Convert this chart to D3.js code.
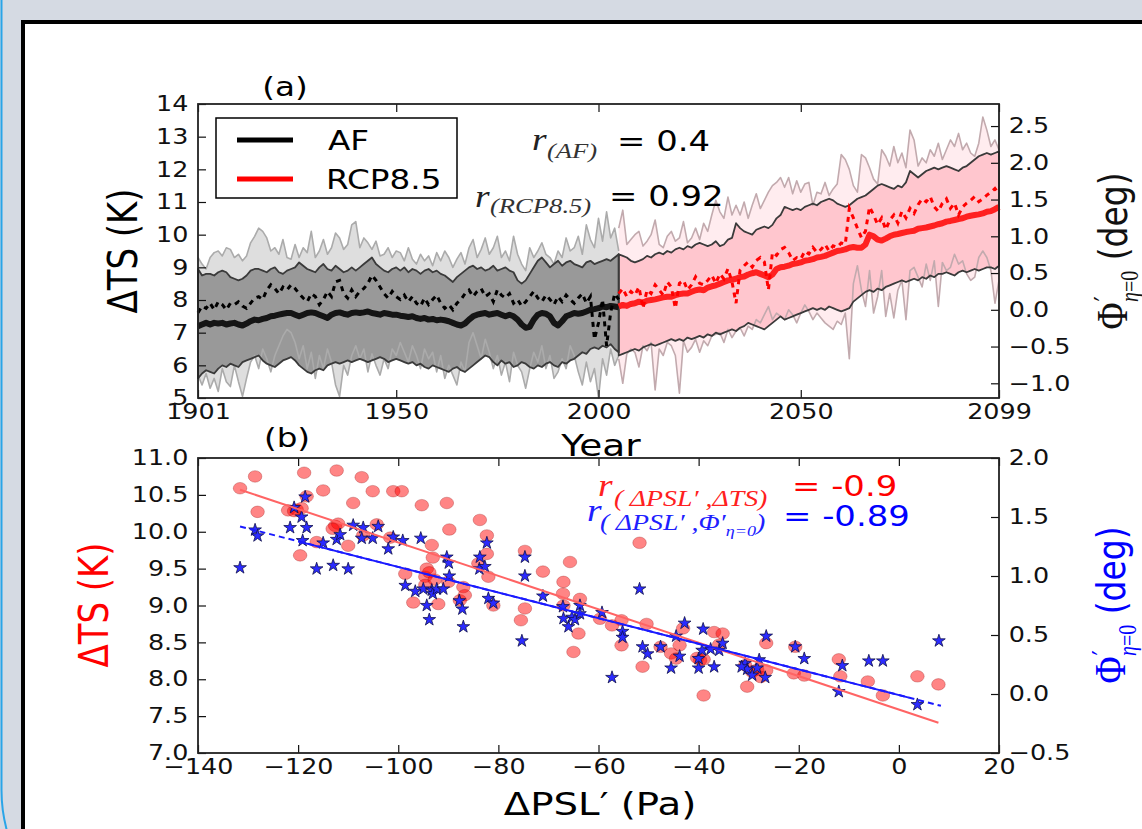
<!DOCTYPE html>
<html>
<head>
<meta charset="utf-8">
<script src="https://cdn.jsdelivr.net/npm/d3@7"></script>
<style>
  body { margin: 0; background: #d5dae3; }
  svg { display: block; }
</style>
</head>
<body>
<div id="chart"></div>
<script>
// ---------- panel (a): yearly series ----------
const histStart = 1901;   // AF run 1901-2005
const rcpStart = 2005;    // RCP8.5 run 2005-2099

// light band (ensemble range), AF
const histOuterHi = [
  9.3, 9.1, 8.95, 9.3, 9.45, 9.5, 9.35, 9.6, 9.55, 9.3,
  9.4, 9.2, 9.35, 9.75, 9.95, 10.2, 10.1, 9.9, 9.5, 9.6,
  9.4, 9.85, 9.3, 9.25, 9.7, 9.3, 9.6, 9.45, 10.1, 9.3,
  9.5, 9.85, 9.4, 9.6, 10.05, 9.9, 9.55, 9.7, 10.3, 10.4,
  9.6, 9.9, 9.75, 9.55, 9.8, 9.35, 9.4, 9.6, 9.3, 9.5,
  9.45, 9.2, 9.6, 9.25, 9.1, 9.4, 9.2, 9.35, 9.05, 9.45,
  9.2, 9.5, 9.3, 9.0, 9.25, 9.45, 9.1, 9.6, 9.85, 9.3,
  9.55, 9.9, 9.4, 9.6, 9.95, 9.3, 9.5, 9.2, 9.95, 9.4,
  9.1, 8.9, 9.6, 9.3, 9.5, 9.75, 9.4, 9.3, 9.1, 9.5,
  9.3, 9.9, 9.5, 9.6, 9.95, 9.4, 10.3, 9.85, 9.6, 10.5,
  9.8, 10.7, 9.9, 10.2, 9.5
];
const histOuterLo = [
  5.7, 5.4, 5.75, 5.3, 5.6, 5.2, 5.9, 5.5, 5.35, 6.0,
  5.5, 5.05, 5.6, 6.1, 6.3, 5.9, 6.5, 6.2, 5.8, 6.3,
  6.6, 6.9, 7.1, 7.0, 6.7, 6.2, 6.6, 5.9, 6.4, 5.6,
  6.3, 5.9, 6.5, 6.1, 5.4, 5.05, 6.0, 5.7, 6.3, 6.6,
  6.2, 6.5, 5.8, 6.35, 6.0, 5.7, 6.2, 5.9, 6.5, 6.3,
  6.7, 6.4, 6.1, 6.6, 6.3, 5.9, 6.5, 6.2, 6.4, 5.8,
  6.3, 5.6, 6.0, 5.7, 5.4, 6.1, 5.8, 6.7, 7.0, 6.6,
  6.2, 6.8, 6.4, 5.9, 6.3, 5.7, 6.1, 5.5, 6.4, 6.0,
  5.8, 5.3, 5.9, 6.4, 6.1, 6.6, 5.9, 6.3, 5.6, 5.8,
  6.2, 5.9, 6.6, 6.3, 5.8, 5.4, 6.1, 5.5, 5.9, 5.0,
  6.2, 5.7, 6.5, 6.0, 6.3
];
// dark band, AF
const histInnerHi = [
  8.95, 8.75, 8.8, 8.8, 8.75, 8.85, 8.9, 8.85, 8.7, 8.65,
  8.6, 8.65, 8.75, 8.9, 8.95, 8.95, 8.9, 8.85, 8.95, 9.0,
  8.85, 8.8, 8.9, 8.95, 9.0, 9.15, 9.05, 8.95, 8.9, 8.85,
  9.0, 9.1, 8.95, 8.9, 9.05, 8.95, 8.85, 8.9, 9.0, 8.9,
  9.0, 9.1, 9.2, 9.3, 9.1, 9.0, 8.9, 8.85, 8.95, 9.0,
  8.9, 9.0, 8.85, 8.95, 8.9, 8.8, 8.9, 8.95, 8.85, 8.9,
  8.8, 8.75, 8.65, 8.55, 8.7, 8.8, 8.9, 9.0, 9.05, 8.95,
  9.0, 8.9, 8.95, 9.05, 8.9, 8.95, 9.0, 8.9, 8.85, 8.6,
  8.5, 8.6, 8.8, 9.0, 9.2, 9.3, 9.15, 9.0, 9.1, 9.2,
  9.05, 9.15, 9.2, 9.1, 9.05, 9.0, 9.15, 9.2, 9.1, 9.15,
  9.2, 9.25, 9.2, 9.3, 9.4
];
const histInnerLo = [
  5.6, 5.75, 5.85, 5.8, 5.75, 5.9, 6.0, 5.95, 6.05, 6.0,
  5.95, 6.1, 6.15, 6.2, 6.25, 6.3, 6.15, 6.05, 6.0, 5.95,
  6.05, 6.15, 6.2, 6.25, 6.15, 6.0, 5.9, 5.8, 5.75, 5.85,
  5.9, 5.85, 6.0, 6.05, 6.1, 6.05, 6.1, 6.15, 6.1, 6.15,
  6.2, 6.15, 6.1, 6.15, 6.2, 6.25, 6.2, 6.1, 6.15, 6.2,
  6.15, 6.1, 6.05, 6.1, 6.0, 6.05, 5.95, 5.9, 6.0, 5.95,
  5.9, 5.85, 5.8, 5.9, 5.95, 5.85, 5.8, 5.9, 6.0, 6.1,
  6.2, 6.3, 6.25, 6.1, 6.0, 6.15, 6.05, 6.1, 5.95, 6.0,
  6.1, 6.05, 5.95, 5.9, 6.0, 5.95, 6.05, 6.1, 6.0, 5.95,
  6.1, 6.05, 6.15, 6.2, 6.3, 6.4, 6.35, 6.5, 6.55, 6.5,
  6.6, 6.55, 6.65, 6.5, 6.4
];
// ensemble mean dTS, AF
const histMean = [
  7.2, 7.25, 7.3, 7.25, 7.3, 7.28, 7.3, 7.25, 7.28, 7.3,
  7.25, 7.22, 7.28, 7.35, 7.4, 7.38, 7.42, 7.45, 7.5, 7.52,
  7.55, 7.58, 7.6, 7.6, 7.55, 7.5, 7.55, 7.6, 7.62, 7.6,
  7.55, 7.5, 7.45, 7.55, 7.6, 7.62, 7.58, 7.55, 7.6, 7.62,
  7.6, 7.62, 7.65, 7.6, 7.58, 7.55, 7.6, 7.58, 7.55, 7.55,
  7.52, 7.5, 7.48, 7.5, 7.45, 7.42, 7.45, 7.4, 7.42, 7.38,
  7.4, 7.38, 7.35, 7.3, 7.25, 7.22, 7.28, 7.4, 7.5, 7.55,
  7.58, 7.6, 7.55, 7.58, 7.6, 7.55, 7.5, 7.55, 7.5, 7.4,
  7.25, 7.15, 7.18, 7.4, 7.55, 7.6, 7.58, 7.5, 7.3, 7.22,
  7.35, 7.5, 7.55, 7.6, 7.58, 7.6, 7.65, 7.7, 7.72, 7.75,
  7.8, 7.78, 7.82, 7.8, 7.78
];
// jet latitude shift Phi' (right axis, deg), AF
const histPhi = [
  -0.04, 0.05, 0.02, 0.09, 0.00, 0.11, 0.07, 0.00, 0.09, 0.07,
  0.11, 0.05, 0.02, 0.09, 0.16, 0.18, 0.14, 0.27, 0.34, 0.29,
  0.22, 0.31, 0.27, 0.34, 0.29, 0.22, 0.16, 0.11, 0.22, 0.18,
  0.07, 0.14, 0.25, 0.18, 0.38, 0.40, 0.22, 0.16, 0.27, 0.18,
  0.25, 0.29, 0.36, 0.47, 0.40, 0.31, 0.22, 0.16, 0.25, 0.18,
  0.14, 0.20, 0.11, 0.18, 0.09, 0.05, 0.16, 0.07, 0.14, 0.20,
  0.09, 0.02, 0.07, 0.00, 0.09, 0.14, 0.22, 0.27, 0.18, 0.25,
  0.29, 0.18, 0.22, 0.11, 0.27, 0.20, 0.16, 0.22, 0.09, 0.14,
  0.05, 0.11, 0.18, 0.25, 0.16, 0.11, 0.20, 0.14, 0.07, 0.18,
  0.11, 0.20, 0.14, 0.09, 0.16, 0.22, 0.09, 0.18, -0.40, -0.18,
  0.14, -0.49, -0.04, 0.22, 0.14
];

// RCP8.5
const rcpOuterHi = [
  10.2, 10.75, 9.7, 9.85, 10.0, 10.1, 9.65, 9.8, 10.0, 10.45,
  9.7, 9.6, 9.95, 10.1, 9.8, 9.9, 10.4, 9.75, 9.9, 10.2,
  9.85, 10.35, 10.1, 10.6, 11.05, 10.7, 10.5, 11.15, 10.6, 10.9,
  10.6, 11.0, 10.5, 10.9, 11.25, 10.8, 11.05, 11.3, 11.5, 11.6,
  11.75, 11.45, 11.75, 11.25, 11.65, 11.3, 11.55, 11.6, 10.9, 11.3,
  11.25, 11.6, 11.2, 11.4, 11.55, 12.45, 12.3, 12.0, 11.5, 11.3,
  12.45, 12.35, 12.05, 11.7, 11.55, 12.6, 12.4, 12.1, 12.7, 12.2,
  12.5, 12.05, 13.2, 12.9, 12.1, 12.35, 12.2, 12.6, 12.4, 12.8,
  12.3, 12.6, 12.9, 12.7, 13.1, 12.6, 12.8, 12.5, 12.4, 12.8,
  13.6, 13.2, 12.7, 12.9, 12.6
];
const rcpOuterLo = [
  6.2, 5.45, 6.35, 6.5, 6.4, 5.95, 6.6, 6.45, 6.7, 5.25,
  6.5, 6.3, 6.7, 6.6, 6.3, 5.15, 6.75, 6.4, 6.55, 6.8,
  6.4, 6.75, 6.6, 6.9, 6.95, 7.0, 6.7, 7.1, 6.85, 7.05,
  7.15, 6.9, 7.2, 7.1, 7.4, 7.3, 7.55, 7.8, 7.4, 7.6,
  7.5, 7.4, 7.7, 7.55, 7.3, 7.6, 7.85, 7.65, 7.4, 7.6,
  7.45, 7.3, 7.2, 7.1, 7.35, 7.25, 7.6, 6.2, 8.5, 9.05,
  8.3, 7.8, 8.9, 7.6, 8.1, 8.9, 7.5, 8.2, 7.45, 8.3,
  8.6, 7.4, 8.9, 9.0, 8.7, 8.4, 9.1, 8.6, 9.2, 7.8,
  9.15, 8.9, 9.0, 9.4, 9.1, 9.2, 8.8, 8.6, 8.7, 9.3,
  9.5, 9.3, 8.9, 7.9, 8.6
];
const rcpInnerHi = [
  9.4, 9.35, 9.3, 9.2, 9.15, 9.2, 9.25, 9.35, 9.3, 9.4,
  9.45, 9.4, 9.5, 9.45, 9.55, 9.6, 9.55, 9.65, 9.6, 9.7,
  9.75, 9.7, 9.65, 9.7, 9.8, 9.65, 9.7, 9.85, 9.9, 10.35,
  10.2, 10.1, 10.05, 10.0, 10.15, 10.2, 10.25, 10.2, 10.3, 10.5,
  10.6, 10.85, 10.8, 10.75, 10.8, 10.75, 10.85, 10.9, 10.95, 10.9,
  11.0, 11.05, 11.1, 11.05, 10.95, 10.9, 10.85, 10.9, 11.0, 11.1,
  11.15, 11.2, 11.3, 11.4, 11.5, 11.55, 11.5, 11.45, 11.4, 11.5,
  11.45, 11.6, 11.95, 11.85, 11.75, 11.85, 11.95, 12.0, 12.05, 12.0,
  12.05, 12.1, 12.05, 12.0, 11.95, 12.05, 12.1, 12.2, 12.3, 12.4,
  12.45, 12.5, 12.45, 12.5, 12.55
];
const rcpInnerLo = [
  6.3, 6.35, 6.4, 6.45, 6.5, 6.45, 6.55, 6.6, 6.65, 6.6,
  6.65, 6.7, 6.75, 6.8, 6.75, 6.8, 6.75, 6.85, 6.8, 6.85,
  6.9, 6.85, 6.95, 6.9, 7.0, 6.95, 7.0, 7.05, 7.1, 7.05,
  7.15, 7.2, 7.3, 7.25, 7.2, 7.15, 7.1, 7.2, 7.3, 7.4,
  7.5, 7.4, 7.45, 7.5, 7.55, 7.6, 7.65, 7.7, 7.75, 7.7,
  7.75, 7.7, 7.8, 7.75, 7.7, 7.65, 7.7, 7.75, 7.95, 8.05,
  8.15, 8.25, 8.3, 8.25, 8.35, 8.3, 8.4, 8.45, 8.5, 8.55,
  8.6, 8.55, 8.6, 8.65, 8.6, 8.7, 8.65, 8.75, 8.7, 8.8,
  8.8, 8.85, 8.8, 8.75, 8.85, 8.9, 8.85, 8.9, 8.95, 8.9,
  8.95, 9.0, 9.0, 8.95, 9.05
];
const rcpMean = [
  7.8, 7.85, 7.82, 7.88, 7.9, 7.95, 7.92, 7.98, 8.0, 8.02,
  8.05, 8.08, 8.1, 8.1, 8.15, 8.18, 8.2, 8.2, 8.25, 8.3,
  8.32, 8.3, 8.38, 8.42, 8.45, 8.5, 8.55, 8.6, 8.62, 8.65,
  8.7, 8.72, 8.78, 8.82, 8.85, 8.8, 8.75, 8.7, 8.78, 8.95,
  9.0, 9.02, 9.05, 9.1, 9.12, 9.15, 9.2, 9.22, 9.25, 9.3,
  9.32, 9.35, 9.4, 9.45, 9.5, 9.52, 9.55, 9.6, 9.62, 9.6,
  9.6, 9.7, 10.0, 9.95, 9.85, 9.82, 9.88, 9.95, 10.0, 10.02,
  10.05, 10.08, 10.1, 10.12, 10.18, 10.2, 10.22, 10.25, 10.28, 10.32,
  10.35, 10.4, 10.42, 10.45, 10.48, 10.5, 10.55, 10.58, 10.6, 10.62,
  10.65, 10.7, 10.72, 10.78, 10.85
];
const rcpPhi = [
  0.22, 0.29, 0.18, 0.25, 0.20, 0.31, 0.02, 0.27, 0.22, 0.34,
  0.27, 0.20, 0.38, 0.31, 0.02, 0.36, 0.40, 0.27, 0.34, 0.45,
  0.36, 0.34, 0.40, 0.47, 0.36, 0.49, 0.42, 0.56, 0.38, 0.09,
  0.54, 0.60, 0.65, 0.58, 0.67, 0.71, 0.65, 0.27, 0.78, 0.74,
  0.82, 0.85, 0.78, 0.67, 0.71, 0.69, 0.80, 0.76, 0.85, 0.78,
  0.82, 0.89, 0.80, 0.87, 0.85, 0.91, 0.89, 1.38, 1.25, 1.11,
  0.98, 1.07, 1.40, 1.29, 1.16, 1.25, 1.09, 1.22, 1.29, 1.18,
  1.34, 1.25, 1.38, 1.31, 1.43, 1.51, 1.47, 1.54, 1.40, 1.34,
  1.45, 1.51, 1.38, 1.45, 1.29, 1.40, 1.45, 1.49, 1.54, 1.47,
  1.51, 1.56, 1.60, 1.65, 1.58
];

// axis extents and ticks, panel (a)
const yearTicks = [1901, 1950, 2000, 2050, 2099];
const tsTicksA = [5, 6, 7, 8, 9, 10, 11, 12, 13, 14];
const phiTicksA = [-1.0, -0.5, 0.0, 0.5, 1.0, 1.5, 2.0, 2.5];
const phiDomainA = [-1.2, 2.8];

// ---------- panel (b): scatter ----------
// red circles: dPSL' (Pa) vs dTS (K)
const pslTs = [
  -131.6, -128.6, -128.1, -122.0, -120.3, -120.8, -119.3, -118.8, -118.3, -119.6,
  -115.0, -116.3, -112.3, -112.6, -112.0, -113.1, -110.0, -109.0, -107.3, -107.0,
  -105.1, -104.3, -101.6, -101.0, -99.3, -98.6, -97.0, -95.3, -94.6, -94.3,
  -93.3, -93.1, -94.6, -93.8, -92.7, -92.0, -90.3, -89.8, -90.0, -87.7,
  -87.0, -86.7, -83.7, -84.0, -82.3, -82.3, -82.0, -81.0, -74.7, -74.7,
  -75.5, -71.1, -67.0, -67.1, -65.7, -67.0, -63.7, -64.0, -65.0, -59.7,
  -57.3, -55.4, -55.4, -51.8, -51.2, -50.4, -43.1, -43.8, -47.6, -45.5,
  -44.5, -39.7, -39.0, -36.9, -35.2, -35.9, -40.3, -39.0, -30.7, -30.3,
  -28.3, -26.5, -26.5, -21.0, -18.9, -20.7, -12.0, -11.7, -6.2, -3.2,
  3.7, 7.9, -29.3, -27.6
];
const tsPts = [
  10.59, 10.75, 10.27, 10.29, 10.30, 10.28, 10.32, 10.80, 10.48, 9.68,
  10.56, 9.86, 10.83, 10.08, 10.11, 10.04, 9.81, 10.39, 10.74, 9.95,
  10.55, 10.10, 9.92, 10.55, 10.55, 9.43, 9.04, 10.36, 9.39, 9.50,
  9.82, 9.65, 9.28, 9.45, 9.35, 9.02, 10.39, 10.03, 9.32, 9.07,
  9.25, 9.14, 10.16, 9.57, 9.95, 9.70, 9.39, 9.00, 9.74, 8.96,
  8.80, 9.46, 9.32, 9.16, 9.59, 9.00, 9.09, 8.62, 8.37, 8.82,
  8.73, 8.80, 8.46, 9.85, 8.17, 8.75, 8.69, 8.46, 8.44, 8.35,
  8.28, 8.26, 7.78, 8.64, 8.62, 8.47, 8.29, 8.27, 8.19, 7.90,
  8.13, 8.12, 8.49, 8.08, 8.05, 8.44, 8.27, 8.04, 7.97, 7.78,
  8.04, 7.93, 8.10, 8.03
];
// blue stars: dPSL' (Pa) vs Phi' (deg)
const pslPhi = [
  -131.6, -128.6, -128.1, -121.6, -120.8, -119.3, -119.1, -118.6, -118.3, -116.3,
  -115.0, -113.0, -112.3, -111.6, -110.0, -109.0, -107.0, -107.3, -105.1, -104.0,
  -102.0, -101.0, -99.1, -98.6, -96.6, -95.5, -95.0, -94.3, -93.8, -93.3,
  -93.1, -92.3, -91.0, -90.3, -89.9, -89.8, -87.8, -87.2, -87.0, -83.7,
  -83.8, -82.7, -82.3, -82.0, -81.0, -74.7, -74.7, -75.3, -71.1, -67.1,
  -67.0, -66.0, -65.3, -64.7, -63.7, -63.7, -59.3, -57.3, -55.2, -55.2,
  -51.8, -51.2, -50.2, -47.6, -45.5, -44.5, -43.8, -42.8, -40.0, -40.0,
  -39.1, -39.3, -37.6, -36.9, -35.9, -35.2, -30.7, -30.3, -29.3, -27.9,
  -26.5, -26.7, -20.7, -18.9, -11.3, -12.0, -6.0, -3.2, 3.7, 8.0,
  -28.3, -31.4
];
const phiPts = [
  1.07, 1.39, 1.34, 1.41, 1.58, 1.50, 1.30, 1.67, 1.41, 1.06,
  1.28, 1.09, 1.31, 1.35, 1.06, 1.43, 1.41, 1.32, 1.32, 1.42,
  1.23, 1.33, 1.30, 0.92, 0.87, 1.32, 0.89, 0.75, 0.63, 0.88,
  0.85, 0.89, 0.89, 1.16, 1.11, 1.00, 0.79, 0.72, 0.57, 1.16,
  1.06, 1.08, 1.28, 0.81, 0.77, 1.16, 1.00, 0.45, 0.83, 0.74,
  0.64, 0.57, 0.65, 0.63, 0.75, 0.68, 0.69, 0.14, 0.53, 0.48,
  0.89, 0.40, 0.34, 0.40, 0.22, 0.49, 0.32, 0.60, 0.22, 0.30,
  0.55, 0.37, 0.38, 0.23, 0.37, 0.43, 0.26, 0.21, 0.16, 0.29,
  0.49, 0.14, 0.40, 0.30, 0.24, 0.02, 0.28, 0.28, -0.09, 0.45,
  0.22, 0.23
];
// regression lines (end points as drawn)
const fitTsX = [-131.6, 7.9], fitTsY = [10.57, 7.41];
const fitPhiX = [-131.6, 8.4], fitPhiY = [1.42, -0.10];
const fitPhiSolidX = [-120, 2];

const pslTicks = [-140, -120, -100, -80, -60, -40, -20, 0, 20];
const tsTicksB = [7.0, 7.5, 8.0, 8.5, 9.0, 9.5, 10.0, 10.5, 11.0];
const phiTicksB = [-0.5, 0.0, 0.5, 1.0, 1.5, 2.0];

// ---------- drawing ----------
const W = 1142, H = 829;
const SANS = '"DejaVu Sans", sans-serif';
const SERIF = '"Liberation Serif", "DejaVu Serif", serif';
const SX = 1.21;   // the figure is stretched horizontally

const svg = d3.select('#chart').append('svg').attr('width', W).attr('height', H);

// page frame
svg.append('rect').attr('x', 0).attr('y', 0).attr('width', W).attr('height', H).attr('fill', '#d5dae3');
svg.append('rect').attr('x', 1.5).attr('y', -200).attr('width', 1400).attr('height', 1145)
  .attr('rx', 155).attr('fill', '#d5dae3').attr('stroke', '#2aa5e8').attr('stroke-width', 2);
svg.append('rect').attr('x', 23).attr('y', 22).attr('width', 1400).attr('height', 1000)
  .attr('fill', '#fff').attr('stroke', '#000').attr('stroke-width', 4);

function txt(x, y, s, o = {}) {
  return svg.append('text')
    .attr('transform', `translate(${x},${y}) scale(${SX},1)` + (o.rot ? ' rotate(-90)' : ''))
    .attr('text-anchor', o.anchor || 'start')
    .attr('fill', o.fill || '#000')
    .style('font-family', o.font || SANS)
    .style('font-style', o.italic ? 'italic' : 'normal')
    .style('font-size', (o.size || 21) + 'px')
    .text(s);
}

function styleAxis(g) {
  g.select('.domain').remove();
  g.attr('font-family', null).attr('font-size', null).attr('color', '#111');
  g.selectAll('line').attr('stroke-width', 1.2);
  g.selectAll('text').style('font-family', SANS).style('font-size', '21px').attr('fill', '#111')
    .attr('transform', `scale(${SX},1)`);
}

function axes(xs, yl, yr, xt, ylt, yrt, xf, ylf, yrf) {
  const [x0, x1] = xs.range(), [y0, y1] = yl.range();
  const bottom = svg.append('g').attr('transform', `translate(0,${y0})`)
    .call(d3.axisBottom(xs).tickValues(xt).tickFormat(xf).tickSize(-8).tickSizeOuter(0).tickPadding(6));
  styleAxis(bottom);
  const top = svg.append('g').attr('transform', `translate(0,${y1})`)
    .call(d3.axisTop(xs).tickValues(xt).tickFormat('').tickSize(-8).tickSizeOuter(0));
  styleAxis(top);
  const left = svg.append('g').attr('transform', `translate(${x0},0)`)
    .call(d3.axisLeft(yl).tickValues(ylt).tickFormat(ylf).tickSize(-8).tickSizeOuter(0).tickPadding(8));
  styleAxis(left);
  const right = svg.append('g').attr('transform', `translate(${x1},0)`)
    .call(d3.axisRight(yr).tickValues(yrt).tickFormat(yrf).tickSize(-8).tickSizeOuter(0).tickPadding(8));
  styleAxis(right);
  svg.append('rect').attr('x', x0).attr('y', y1).attr('width', x1 - x0).attr('height', y0 - y1)
    .attr('fill', 'none').attr('stroke', '#222').attr('stroke-width', 1.8);
}

// ----- panel (a) -----
const xa = d3.scaleLinear().domain([1901, 2099]).range([198, 999]);
const yaL = d3.scaleLinear().domain([5, 14]).range([398, 104]);
const yaR = d3.scaleLinear().domain(phiDomainA).range([398, 104]);

const ga = svg.append('g');
const yr = (start) => (d, i) => xa(start + i);

function band(hi, lo, start, fill, stroke, sw) {
  const area = d3.area().x((d, i) => xa(start + i)).y0((d, i) => yaL(lo[i])).y1(d => yaL(d));
  ga.append('path').datum(hi).attr('d', area).attr('fill', fill)
    .attr('stroke', stroke || 'none').attr('stroke-width', sw || 0).attr('stroke-linejoin', 'round');
}
function edge(vals, start, color, sw) {
  const line = d3.line().x(yr(start)).y(d => yaL(d));
  ga.append('path').datum(vals).attr('d', line).attr('fill', 'none')
    .attr('stroke', color).attr('stroke-width', sw).attr('stroke-linejoin', 'round');
}

// light (range) bands
band(histOuterHi, histOuterLo, histStart, '#dedede');
band(rcpOuterHi, rcpOuterLo, rcpStart, '#ffecef');
// dark / pink inner bands
band(histInnerHi, histInnerLo, histStart, '#999999');
band(rcpInnerHi, rcpInnerLo, rcpStart, '#ffc6ce');
// range edges
edge(histOuterHi, histStart, '#ababab', 1.6);
edge(histOuterLo, histStart, '#ababab', 1.6);
edge(rcpOuterHi, rcpStart, '#c2aaae', 1.6);
edge(rcpOuterLo, rcpStart, '#c2aaae', 1.6);
// inner band outlines (closed, gives the vertical edge at 2005)
band(histInnerHi, histInnerLo, histStart, 'none', '#3a3a3a', 1.8);
band(rcpInnerHi, rcpInnerLo, rcpStart, 'none', '#3a3a3a', 1.8);

// ensemble means
edge(histMean, histStart, '#151515', 6);
edge(rcpMean, rcpStart, '#ff2020', 6);

// Phi' (dotted, right axis)
const phiLine = (start) => d3.line().x(yr(start)).y(d => yaR(d));
ga.append('path').datum(histPhi).attr('d', phiLine(histStart)).attr('fill', 'none')
  .attr('stroke', '#000').attr('stroke-width', 3).attr('stroke-dasharray', '5,5');
ga.append('path').datum(rcpPhi).attr('d', phiLine(rcpStart)).attr('fill', 'none')
  .attr('stroke', '#ff0000').attr('stroke-width', 3).attr('stroke-dasharray', '5,5');

axes(xa, yaL, yaR, yearTicks, tsTicksA, phiTicksA, d3.format('d'), d3.format('d'), d3.format('.1f'));

// legend
svg.append('rect').attr('x', 216).attr('y', 118).attr('width', 241).attr('height', 80)
  .attr('fill', '#fff').attr('stroke', '#000').attr('stroke-width', 1.5);
svg.append('line').attr('x1', 237).attr('x2', 293).attr('y1', 140).attr('y2', 140).attr('stroke', '#000').attr('stroke-width', 5);
svg.append('line').attr('x1', 237).attr('x2', 293).attr('y1', 179).attr('y2', 179).attr('stroke', '#ff0000').attr('stroke-width', 5);
txt(328, 150, 'AF', { size: 27 });
txt(326, 189, 'RCP8.5', { size: 27 });

// correlation annotations (a)
txt(532, 150, 'r', { font: SERIF, italic: true, size: 31, fill: '#222' });
txt(547, 158, '(AF)', { font: SERIF, italic: true, size: 22, fill: '#333' });
txt(617, 151, '= 0.4', { size: 28 });
txt(475, 207, 'r', { font: SERIF, italic: true, size: 31, fill: '#222' });
txt(490, 213, '(RCP8.5)', { font: SERIF, italic: true, size: 22, fill: '#333' });
txt(609, 206, '= 0.92', { size: 28 });

// labels (a)
txt(285, 96, '(a)', { anchor: 'middle', size: 27 });
txt(137, 251, 'ΔTS (K)', { anchor: 'middle', size: 34, rot: true });
txt(601, 456, 'Year', { anchor: 'middle', size: 31 });

function phiLabel(x, y, color) {
  const t = svg.append('text')
    .attr('transform', `translate(${x},${y}) scale(${SX},1) rotate(-90)`)
    .attr('text-anchor', 'middle').attr('fill', color)
    .style('font-family', SANS).style('font-size', '33px');
  t.append('tspan').style('font-family', SERIF).style('font-size', '37px').text('Φ');
  t.append('tspan').style('font-size', '24px').attr('dx', 1).attr('dy', -10).text('′');
  t.append('tspan').style('font-family', SERIF).style('font-style', 'italic').style('font-size', '20px')
    .attr('dx', -6).attr('dy', 19).text('η');
  t.append('tspan').style('font-family', SERIF).style('font-size', '20px').text('=0');
  t.append('tspan').attr('dy', -9).text(' (deg)');
}
phiLabel(1127, 251, '#111');

// ----- panel (b) -----
const xb = d3.scaleLinear().domain([-140, 20]).range([198, 999]);
const ybL = d3.scaleLinear().domain([7, 11]).range([753, 458]);
const ybR = d3.scaleLinear().domain([-0.5, 2.0]).range([753, 458]);

const gb = svg.append('g');
gb.selectAll('ellipse').data(pslTs).enter().append('ellipse')
  .attr('cx', d => xb(d)).attr('cy', (d, i) => ybL(tsPts[i]))
  .attr('rx', 6.8).attr('ry', 5.8)
  .attr('fill', 'rgba(255,0,0,0.48)').attr('stroke', 'rgba(140,0,0,0.35)').attr('stroke-width', 0.8);

const star = d3.symbol().type(d3.symbolStar).size(50);
gb.selectAll('path.star').data(pslPhi).enter().append('path').attr('class', 'star')
  .attr('d', star)
  .attr('transform', (d, i) => `translate(${xb(d)},${ybR(phiPts[i])})`)
  .attr('fill', '#2b2bff').attr('stroke', '#10104a').attr('stroke-width', 0.8);

// regression lines
gb.append('line').attr('x1', xb(fitTsX[0])).attr('x2', xb(fitTsX[1]))
  .attr('y1', ybL(fitTsY[0])).attr('y2', ybL(fitTsY[1]))
  .attr('stroke', '#ff6464').attr('stroke-width', 2);
const phiFit = d3.scaleLinear().domain(fitPhiX).range(fitPhiY);
gb.append('line').attr('x1', xb(fitPhiX[0])).attr('x2', xb(fitPhiX[1]))
  .attr('y1', ybR(fitPhiY[0])).attr('y2', ybR(fitPhiY[1]))
  .attr('stroke', '#1a1aff').attr('stroke-width', 2).attr('stroke-dasharray', '6,4');
gb.append('line').attr('x1', xb(fitPhiSolidX[0])).attr('x2', xb(fitPhiSolidX[1]))
  .attr('y1', ybR(phiFit(fitPhiSolidX[0]))).attr('y2', ybR(phiFit(fitPhiSolidX[1])))
  .attr('stroke', '#1a1aff').attr('stroke-width', 1.8);

axes(xb, ybL, ybR, pslTicks, tsTicksB, phiTicksB, d3.format('d'), d3.format('.1f'), d3.format('.1f'));

// correlation annotations (b)
txt(598, 496, 'r', { font: SERIF, italic: true, size: 31, fill: '#ff2020' });
txt(614, 506, '( ΔPSL′ ,ΔTS)', { font: SERIF, italic: true, size: 23, fill: '#ff2020' });
txt(792, 496, '= -0.9', { size: 28, fill: '#ff0000' });
txt(587, 521, 'r', { font: SERIF, italic: true, size: 31, fill: '#2020ff' });
const sub = svg.append('text')
  .attr('transform', `translate(600,530) scale(${SX},1)`)
  .attr('fill', '#2020ff').style('font-family', SERIF).style('font-style', 'italic').style('font-size', '23px');
sub.append('tspan').text('( ΔPSL′ ,Φ′');
sub.append('tspan').style('font-size', '15px').attr('dy', 6).text('η=0');
sub.append('tspan').attr('dy', -6).text(')');
txt(783, 526, '= -0.89', { size: 28, fill: '#0000ff' });

// labels (b)
txt(287, 447, '(b)', { anchor: 'middle', size: 27 });
txt(108, 605, 'ΔTS (K)', { anchor: 'middle', size: 34, rot: true, fill: '#ff0000' });
txt(600, 815, 'ΔPSL′   (Pa)', { anchor: 'middle', size: 32 });
phiLabel(1125, 605, '#0000ff');
</script>
</body>
</html>
